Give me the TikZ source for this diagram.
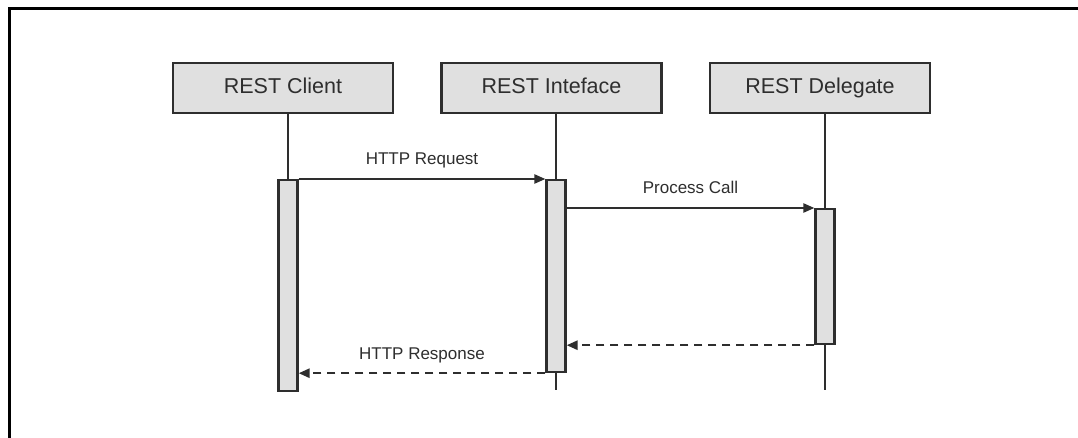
\documentclass[tikz,border=0pt]{standalone}
\usepackage{fontspec}
\setmainfont{Liberation Sans}
\usetikzlibrary{arrows.meta}
\definecolor{ln}{HTML}{2E2E2E}
\definecolor{fl}{HTML}{E0E0E0}
\tikzset{
  hdr/.style={draw=ln, line width=2.2pt, fill=fl, minimum width=220pt, minimum height=50pt, inner sep=0pt, text height=15pt, text depth=4pt, font=\fontsize{21.5}{24}\selectfont, text=ln},
  act/.style={draw=ln, line width=2.2pt, fill=fl, minimum width=19pt, inner sep=0pt},
  life/.style={draw=ln, line width=2.2pt},
  msg/.style={draw=ln, line width=2.2pt, -{Triangle[length=11pt,width=9pt]}},
  ret/.style={msg, dash pattern=on 8pt off 6pt, line width=2.5pt},
  lbl/.style={font=\fontsize{17}{20}\selectfont, text=ln, inner sep=0pt, text height=12pt, text depth=3.5pt}
}
\begin{document}
\begin{tikzpicture}[x=1pt,y=-1pt]
\useasboundingbox (0,0) rectangle (1078,438);
\fill[white] (0,0) rectangle (1078,438);
\draw[line width=3pt, black] (9,440) -- (9,9) -- (1080,9);
% headers
\node[hdr] (c) at (283,88) {REST Client};
\node[hdr] (i) at (551.5,88) {REST Inteface};
\node[hdr] (d) at (820,88) {REST Delegate};
% lifeline ends
\coordinate (cend) at (288,390);
\coordinate (iend) at (556,390);
\coordinate (dend) at (825,390);
% activations
\node[act, minimum height=211pt, anchor=north] (ca) at (288,179) {};
\node[act, minimum height=192pt, anchor=north] (ia) at (556,179) {};
\node[act, minimum height=135pt, anchor=north] (da) at (825,208) {};
% lifelines
\draw[life] (c.south -| ca.north) -- (ca.north);
\draw[life] (i.south -| ia.north) -- (ia.north);
\draw[life] (ia.south) -- (iend);
\draw[life] (d.south -| da.north) -- (da.north);
\draw[life] (da.south) -- (dend);
% messages
\draw[msg] (ca.north east) -- (ia.north west) node[lbl, midway, above=9.5pt] {HTTP Request};
\draw[msg] (ia.east |- da.north) -- (da.north west) node[lbl, midway, above=9.5pt] {Process Call};
\draw[ret] (da.south west) -- (ia.east |- da.south);
\draw[ret] (ia.south west) -- (ca.east |- ia.south) node[lbl, midway, above=9pt] {HTTP Response};
\end{tikzpicture}
\end{document}
